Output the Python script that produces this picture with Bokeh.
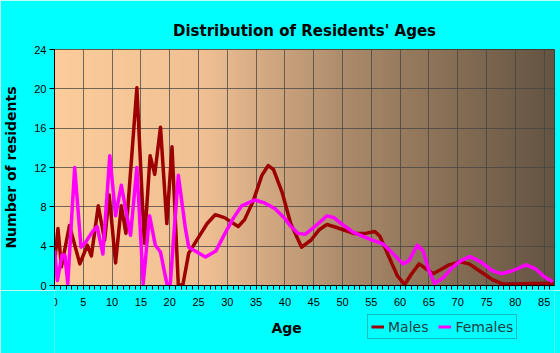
import numpy as np
from bokeh.plotting import figure
from bokeh.models import Range1d, FixedTicker, Legend, LegendItem
from bokeh.layouts import column
from bokeh.core.properties import value
from bokeh.embed import file_html
from bokeh.resources import INLINE

# ---- data ----
male_age = [0, 0.6, 1.2, 2.6, 4.4, 5.7, 6.4, 7.6, 8.7, 9.5, 10.6, 11.6, 12.4, 14.3,
            15.6, 16.6, 17.4, 18.4, 19.5, 20.4, 21.5, 22.3, 23.3, 25, 26.5, 27.9,
            29.5, 31.9, 33, 34.5, 36, 37.1, 38, 39.5, 41, 42.9, 44.5, 46, 47.3, 49,
            51.9, 54, 55.6, 56.5, 58, 59.5, 60.8, 62, 63.3, 64.5, 65.7, 67, 68.5,
            70.4, 72, 74, 76, 77.9, 80, 83, 86.8]
male_val = [2.2, 5.8, 1.9, 6.1, 2.2, 4.1, 3.0, 8.1, 4.6, 9.2, 2.3, 8.1, 5.3, 20.1,
            4.3, 13.2, 11.3, 16.1, 6.3, 14.1, 0.0, 0.1, 3.3, 4.9, 6.3, 7.2,
            6.9, 6.0, 6.7, 8.6, 11.2, 12.2, 11.8, 9.5, 6.3, 3.9, 4.6, 5.7, 6.2, 5.9,
            5.3, 5.3, 5.5, 5.0, 3.0, 1.0, 0.1, 1.2, 2.2, 1.7, 1.2, 1.6, 2.1,
            2.4, 2.2, 1.4, 0.6, 0.15, 0.15, 0.2, 0.2]

female_age = [0, 0.5, 1.3, 1.8, 2.3, 3.5, 4.6, 5.4, 6.5, 7.4, 8.4, 9.6, 10.6, 11.6,
              13.2, 14.3, 15.4, 16.5, 17.5, 18.4, 19.5, 20.1, 21.5, 22.7, 23.3, 26.2,
              28, 29.6, 31, 32.5, 34.8, 36.5, 38.3, 40, 40.9, 42.3, 43.5, 45, 47.3,
              48.5, 50, 51.9, 54.8, 57.1, 58.5, 60.5, 61.5, 63, 64, 65, 66, 67.5, 69,
              70.5, 72.1, 74, 76, 77.6, 79.5, 81.9, 83.5, 85, 86.5]
female_val = [3.6, 0.5, 3.1, 3.1, 0.2, 12.0, 3.9, 4.4, 5.4, 6.0, 3.2, 13.2, 7.1, 10.2,
              5.1, 12.0, 0.2, 7.1, 4.1, 3.4, 0.2, 0.2, 11.2, 5.9, 3.9, 2.9,
              3.5, 5.3, 6.8, 8.1, 8.7, 8.4, 7.8, 6.8, 6.1, 5.3, 5.2, 5.9, 7.1,
              6.9, 6.2, 5.4, 4.7, 4.2, 3.4, 2.2, 2.5, 4.1, 3.5, 1.5, 0.2, 0.8, 1.8,
              2.5, 2.95, 2.4, 1.5, 1.2, 1.5, 2.1, 1.7, 0.9, 0.4]

x_ticks = list(range(0, 90, 5))
x_tick_labels = [str(v) for v in x_ticks]
x_minor_ticks = list(range(0, 88))
y_ticks = [0, 4, 8, 12, 16, 20, 24]
series_names = ["Males", "Females"]
series_colors = ["#9c0000", "#ff00ff"]

XMAX = 86.8
YMAX = 24

FONT = "Liberation Sans"
WIDE = "DejaVu Sans"
CYAN = "#00ffff"

# ---------------- main chart ----------------
p = figure(width=560, height=290, output_backend="svg", toolbar_location=None,
           x_range=Range1d(0, XMAX), y_range=Range1d(0, YMAX),
           min_border_left=54, min_border_right=6, min_border_top=49,
           min_border_bottom=5)

p.border_fill_color = CYAN
p.background_fill_color = "#fccc99"
p.outline_line_color = "#333333"
p.outline_line_width = 1

# background gradient (styling only)
stops_pos = [0.0, 0.3, 0.6, 1.0]
stops_col = [(252, 205, 154), (240, 192, 148), (168, 136, 104), (100, 84, 66)]
N = 300
t = np.linspace(0, 1, N)
img = np.zeros((1, N), dtype=np.uint32)
view = img.view(dtype=np.uint8).reshape((1, N, 4))
for c in range(3):
    view[0, :, c] = np.interp(t, stops_pos, [s[c] for s in stops_col]).astype(np.uint8)
view[0, :, 3] = 255
bg = p.image_rgba(image=[img], x=0, y=0, dw=XMAX, dh=YMAX)
bg.level = "image"

p.title.text = "Distribution of Residents' Ages"
p.title.align = "center"
p.title.text_font = WIDE
p.title.text_font_size = "15px"
p.title.text_font_style = "bold"
p.title.text_color = "#000000"
p.title.standoff = 20

# x axis: only (unlabelled) tick marks here; labels are drawn in the strip below
p.xaxis.ticker = FixedTicker(ticks=[], minor_ticks=x_minor_ticks)
p.yaxis.ticker = FixedTicker(ticks=y_ticks)
p.yaxis.axis_label = "Number of residents"
p.yaxis.axis_label_text_font = WIDE
p.yaxis.axis_label_text_font_size = "14px"
p.yaxis.axis_label_text_font_style = "bold"
p.yaxis.axis_label_text_color = "#000000"
for ax in (p.xaxis[0], p.yaxis[0]):
    ax.major_label_text_font = FONT
    ax.major_label_text_font_size = "11px"
    ax.major_label_text_color = "#000000"
    ax.axis_line_color = "#000000"
    ax.major_tick_line_color = "#000000"
    ax.minor_tick_line_color = "#000000"
    ax.major_tick_in = 0
    ax.minor_tick_in = 0
p.xaxis.major_label_standoff = 0
p.xaxis.major_tick_out = 4
p.xaxis.minor_tick_out = 4
p.yaxis.major_tick_out = 5
p.yaxis.minor_tick_line_color = None
p.yaxis.major_label_standoff = 3
p.yaxis.axis_label_standoff = 12

p.xgrid.ticker = FixedTicker(ticks=x_ticks)
p.ygrid.ticker = FixedTicker(ticks=y_ticks)
for g in (p.xgrid[0], p.ygrid[0]):
    g.grid_line_color = "#444444"
    g.grid_line_alpha = 0.75
    g.grid_line_width = 1

p.line(male_age, male_val, line_color=series_colors[0], line_width=3.5, line_join="round")
p.line(female_age, female_val, line_color=series_colors[1], line_width=3.5, line_join="round")

# ---------------- bottom strip: tick labels, axis title, legend ----------------
STRIP_H = 63
p2 = figure(width=560, height=STRIP_H, output_backend="svg", toolbar_location=None,
            x_range=p.x_range, y_range=Range1d(0, STRIP_H),
            x_axis_location=None, y_axis_location=None,
            min_border_left=54, min_border_right=6, min_border_top=0,
            min_border_bottom=0)
p2.grid.visible = False
p2.outline_line_color = None
p2.background_fill_color = CYAN
p2.border_fill_color = CYAN

p2.text(x=x_ticks, y=[52] * len(x_ticks), text=x_tick_labels, text_align="center",
        text_baseline="middle", text_font=value(FONT), text_font_size="11px",
        text_color="#000000")

AGE_X = 40.3  # horizontal position of the axis title, in age units
p2.text(x=[AGE_X], y=[26], text=["Age"], text_align="center", text_baseline="middle",
        text_font=value(WIDE), text_font_size="14px", text_font_style="bold",
        text_color="#000000")

dm = p2.line([np.nan, np.nan], [np.nan, np.nan], line_color=series_colors[0], line_width=3)
df = p2.line([np.nan, np.nan], [np.nan, np.nan], line_color=series_colors[1], line_width=3)
legend = Legend(items=[LegendItem(label=series_names[0], renderers=[dm]),
                       LegendItem(label=series_names[1], renderers=[df])],
                orientation="horizontal", location=(313, 14))
legend.background_fill_color = CYAN
legend.background_fill_alpha = 1
legend.border_line_color = "#2a7a7a"
legend.border_line_width = 1
legend.label_text_font = WIDE
legend.label_text_font_size = "14px"
legend.label_text_color = "#1f3f3f"
legend.glyph_width = 13
legend.glyph_height = 17
legend.padding = 3
legend.spacing = 10
legend.margin = 0
legend.label_standoff = 4
p2.add_layout(legend, "center")

layout = column(p, p2, spacing=0)
open("out.html", "w").write(file_html(layout, INLINE))
